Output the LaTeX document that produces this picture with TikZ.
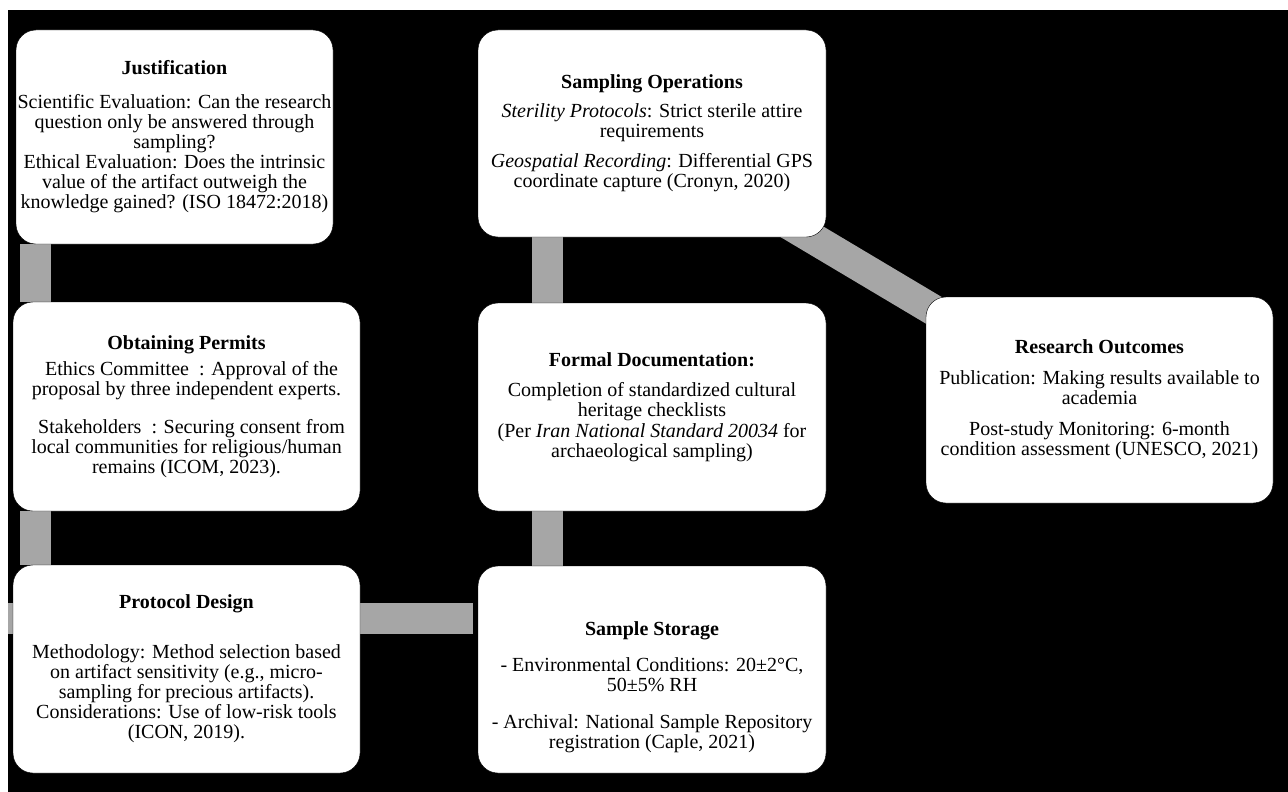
\documentclass[tikz,border=0pt]{standalone}
\usepackage{fontspec}
\setmainfont{Liberation Serif}
\usepackage{tikz}
\usetikzlibrary{backgrounds}
\definecolor{CanvasColor}{RGB}{0,0,0}
\definecolor{LinkColor}{RGB}{166,166,166}
\tikzstyle{stagebox} = [fill=white, draw=black, rounded corners=20pt, align=center, inner sep=0pt, font=\fontsize{20}{20}\selectfont]
\tikzstyle{link} = [LinkColor, line width=31pt]

\begin{document}
\begin{tikzpicture}[x=1pt, y=-1pt]
        % Canvas
        \useasboundingbox (0,0) rectangle (1288,792);
        \begin{pgfonlayer}{background}
          \fill[white] (0,0) rectangle (1288,792);
          \fill[CanvasColor] (8,10) rectangle (1288,792);
        \end{pgfonlayer}

        % Left column
        \node[stagebox, minimum width=317pt, minimum height=214pt] (just) at (174.5,137) {\textbf{Justification}\\[14pt]
          Scientific Evaluation: Can the research\\
          question only be answered through\\
          sampling?\\
          Ethical Evaluation: Does the intrinsic\\
          value of the artifact outweigh the\\
          knowledge gained? (ISO 18472:2018)};

        \node[stagebox, minimum width=347pt, minimum height=209pt] (perm) at (186.5,406.5) {\textbf{Obtaining Permits}\\[6pt]
          \hspace*{10pt}Ethics Committee\ \ : Approval of the\\
          proposal by three independent experts.\\[18pt]
          \hspace*{10pt}Stakeholders\ \ : Securing consent from\\
          local communities for religious/human\\
          remains (ICOM, 2023).};

        \node[stagebox, minimum width=347pt, minimum height=208pt] (prot) at (186.5,669) {\textbf{Protocol Design}\\[30pt]
          Methodology: Method selection based\\
          on artifact sensitivity (e.g., micro-\\
          sampling for precious artifacts).\\
          Considerations: Use of low-risk tools\\
          (ICON, 2019).};

        % Middle column
        \node[stagebox, minimum width=348pt, minimum height=207pt] (samp) at (652,133.5) {\textbf{Sampling Operations}\\[9pt]
          \textit{Sterility Protocols}: Strict sterile attire\\
          requirements\\[10pt]
          \textit{Geospatial Recording}: Differential GPS\\
          coordinate capture (Cronyn, 2020)};

        \node[stagebox, minimum width=348pt, minimum height=208pt] (form) at (652,407) {\textbf{Formal Documentation:}\\[10pt]
          Completion of standardized cultural\\
          heritage checklists\\[1pt]
          (Per \textit{Iran National Standard 20034} for\\
          archaeological sampling)};

        \node[stagebox, minimum width=348pt, minimum height=207pt] (stor) at (652,669.5) {\mbox{}\\[30pt]
          \textbf{Sample Storage}\\[16pt]
          - Environmental Conditions: 20±2°C,\\
          50±5\% RH\\[17pt]
          - Archival: National Sample Repository\\
          registration (Caple, 2021)};

        % Right column
        \node[stagebox, minimum width=347pt, minimum height=206pt] (outc) at (1099.5,400) {\textbf{Research Outcomes}\\[11pt]
          Publication: Making results available to\\
          academia\\[11pt]
          Post-study Monitoring: 6-month\\
          condition assessment (UNESCO, 2021)};

        % Connectors
        \begin{pgfonlayer}{background}
          \draw[link] ([xshift=20pt]just.south west) -- ([xshift=23pt]perm.north west);
          \draw[link] ([xshift=23pt]perm.south west) -- ([xshift=23pt]prot.north west);
          \draw[link] ([xshift=-5pt,yshift=-53.5pt]prot.north west) -- ([xshift=-5pt,yshift=-52.5pt]stor.north west);
          \draw[link] ([xshift=70pt]samp.south west) -- ([xshift=70pt]form.north west);
          \draw[link] ([xshift=70pt]form.south west) -- ([xshift=70pt]stor.north west);
          \draw[link] ([yshift=-9pt]samp.center) -- ([yshift=-9pt]outc.center);
        \end{pgfonlayer}

      \end{tikzpicture}
\end{document}
